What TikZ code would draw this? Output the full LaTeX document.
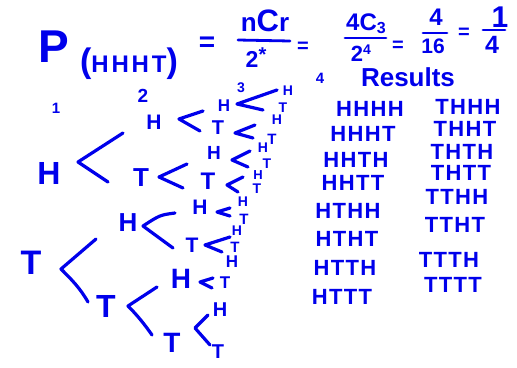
\documentclass[tikz,border=0pt]{standalone}
\usepackage{fontspec}
\setmainfont{Liberation Sans}
\definecolor{ink}{RGB}{0,0,235}
\tikzset{
  lbl/.style={text=ink, inner sep=0pt, font=\bfseries\fontsize{#1}{#1}\selectfont},
  res/.style={text=ink, inner sep=0pt, font=\bfseries\fontsize{22}{22}\selectfont\addfontfeature{LetterSpace=6}},
  branch/.style={draw=ink, line width=3.2pt, line cap=round, line join=round},
  fracline/.style={draw=ink, line width=2.8pt, line cap=round},
}
\newcommand\BranchMark[4]{%
  \coordinate (#1u) at (#2); \coordinate (#1v) at (#3); \coordinate (#1l) at (#4);
  \draw[branch] (#1u) -- (#1v) -- (#1l);}
\begin{document}
\begin{tikzpicture}[x=1pt,y=-1pt]
\useasboundingbox (0,0) rectangle (517,367);
% ---- title formula ----
\node[lbl=46, anchor=base] (P) at (54,62) {P};
\node[lbl=34, anchor=base] (arg) at (129,72) {(\begingroup\fontsize{24}{24}\selectfont\addfontfeature{LetterSpace=12}HHHT\endgroup)};
\node[lbl=28, anchor=base] (eq1) at (207,51) {=};
\node[lbl=26, anchor=base] (num1) at (265,31) {n{\fontsize{31}{31}\selectfont C}r};
\coordinate (f1a) at (238,40); \coordinate (f1b) at (290,41);
\draw[fracline] (f1a) -- (f1b);
\node[lbl=23, anchor=base] (den1) at (256,67) {2\raisebox{6pt}{\fontsize{20}{20}\selectfont *}};
\node[lbl=20, anchor=base] (eq2) at (303,52) {=};
\node[lbl=24, anchor=base] (num2) at (366,30) {4C\raisebox{-3pt}{\fontsize{16}{16}\selectfont 3}};
\coordinate (f2a) at (345,38); \coordinate (f2b) at (386,38);
\draw[fracline] (f2a) -- (f2b);
\node[lbl=22, anchor=base] (den2) at (361,61) {2\raisebox{7pt}{\fontsize{14}{14}\selectfont 4}};
\node[lbl=20, anchor=base] (eq3) at (398,51) {=};
\node[lbl=24, anchor=base] (num3) at (436,25) {4};
\coordinate (f3a) at (423,33); \coordinate (f3b) at (447,33);
\draw[fracline] (f3a) -- (f3b);
\node[lbl=21, anchor=base] (den3) at (433,53) {16};
\node[lbl=20, anchor=base] (eq4) at (464,38) {=};
\node[lbl=30, anchor=base] (num4) at (500,27) {1};
\coordinate (f4a) at (483,30); \coordinate (f4b) at (505,30);
\draw[fracline] (f4a) -- (f4b);
\node[lbl=25, anchor=base] (den4) at (492,53) {4};
% ---- level numbers and heading ----
\node[lbl=15, anchor=base] (k1) at (56,113) {1};
\node[lbl=19, anchor=base] (k2) at (143,102) {2};
\node[lbl=14, anchor=base] (k3) at (241,92) {3};
\node[lbl=15, anchor=base] (k4) at (320,83) {4};
\node[lbl=26, anchor=base] (results) at (408,86) {Results};
% ---- tree ----
\node[lbl=32] (H) at (49,173) {H};
\node[lbl=34] (T) at (31,263) {T};
\node[lbl=21] (HH) at (154,122) {H};
\node[lbl=26] (HT) at (141,178) {T};
\node[lbl=26] (TH) at (128,223) {H};
\node[lbl=32] (TT) at (106,306) {T};
\node[lbl=17] (HHH) at (224,106) {H};
\node[lbl=20] (HHT) at (218,128) {T};
\node[lbl=19] (HTH) at (214,153) {H};
\node[lbl=24] (HTT) at (208,181) {T};
\node[lbl=21] (THH) at (200,207) {H};
\node[lbl=21] (THT) at (192,245) {T};
\node[lbl=28] (TTH) at (181,279) {H};
\node[lbl=28] (TTT) at (172,343) {T};
\node[lbl=14] (HHHH) at (288,91) {H};
\node[lbl=14] (HHHT) at (283,108) {T};
\node[lbl=14] (HHTH) at (277,120) {H};
\node[lbl=15] (HHTT) at (272,139) {T};
\node[lbl=14] (HTHH) at (263,148) {H};
\node[lbl=14] (HTHT) at (267,164) {T};
\node[lbl=13] (HTTH) at (258,175) {H};
\node[lbl=14] (HTTT) at (257,189) {T};
\node[lbl=14] (THHH) at (243,202) {H};
\node[lbl=15] (THHT) at (244,219) {T};
\node[lbl=14] (THTH) at (237,231) {H};
\node[lbl=15] (THTT) at (235,247) {T};
\node[lbl=17] (TTHH) at (232,262) {H};
\node[lbl=17] (TTHT) at (225,283) {T};
\node[lbl=20] (TTTH) at (220,310) {H};
\node[lbl=20] (TTTT) at (218,352) {T};
\BranchMark{bH}{123,133}{78,162}{108,182}
\coordinate (bTu) at (96,239); \coordinate (bTv) at (61,269); \coordinate (bTl) at (88,302);
\draw[branch] (bTu) -- (bTv) .. controls (72,280) and (80,288) .. (bTl);
\BranchMark{bHH}{203,111}{179,119}{200,131}
\BranchMark{bHT}{187,164}{159,177}{183,188}
\coordinate (bTHu) at (175,213); \coordinate (bTHv) at (143,226); \coordinate (bTHl) at (173,248);
\draw[branch] (bTHu) .. controls (160,215) .. (bTHv) -- (bTHl);
\coordinate (bTTu) at (157,287); \coordinate (bTTv) at (128,306); \coordinate (bTTl) at (152,335);
\draw[branch] (bTTu) -- (bTTv) .. controls (138,316) and (145,325) .. (bTTl);
\BranchMark{bHHH}{277,90}{237,104}{263,110}
\BranchMark{bHHT}{255,125}{235,133}{253,138}
\BranchMark{bHTH}{250,151}{232,160}{248,167}
\BranchMark{bHTT}{243,177}{227,185}{238,192}
\BranchMark{bTHH}{230,208}{217,212}{230,216}
\BranchMark{bTHT}{230,237}{205,245}{222,252}
\BranchMark{bTTH}{213,278}{200,282}{212,288}
\BranchMark{bTTT}{208,315}{195,328}{210,345}
% ---- results ----
\node[res] (r1) at (370,109) {HHHH};
\node[res] (r2) at (363,134) {HHHT};
\node[res] (r3) at (356,160) {HHTH};
\node[res] (r4) at (353,183) {HHTT};
\node[res] (r5) at (348,211) {HTHH};
\node[res] (r6) at (347,239) {HTHT};
\node[res] (r7) at (345,268) {HTTH};
\node[res] (r8) at (342,297) {HTTT};
\node[res] (s1) at (468,107) {THHH};
\node[res] (s2) at (465,129) {THHT};
\node[res] (s3) at (462,152) {THTH};
\node[res] (s4) at (461,173) {THTT};
\node[res] (s5) at (457,197) {TTHH};
\node[res] (s6) at (455,225) {TTHT};
\node[res] (s7) at (449,260) {TTTH};
\node[res] (s8) at (453,285) {TTTT};
\end{tikzpicture}
\end{document}
